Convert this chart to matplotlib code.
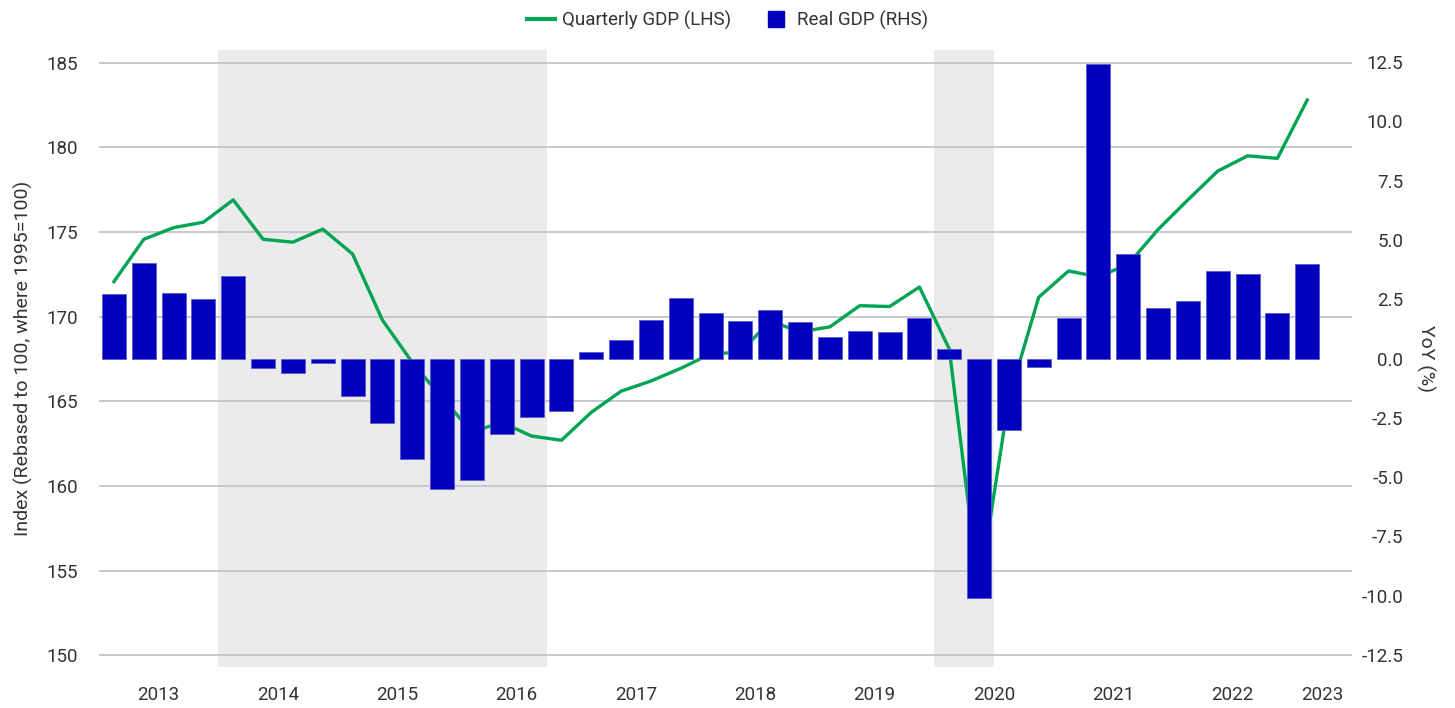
import matplotlib
matplotlib.use("Agg")
import matplotlib.pyplot as plt
from matplotlib.lines import Line2D
import numpy as np

plt.rcParams['font.family'] = ['Roboto', 'DejaVu Sans']

# Quarterly data 2013 Q1 .. 2023 Q1
quarters = [f"{y}Q{q}" for y in range(2013, 2023) for q in range(1, 5)] + ["2023Q1"]

gdp_index = [172.07, 174.57, 175.26, 175.58, 176.9, 174.57, 174.4, 175.17,
             173.7, 169.8, 167.3, 165.2, 163.2, 163.75, 162.95, 162.7,
             164.35, 165.6, 166.2, 166.95, 167.8, 167.9, 169.75, 169.1,
             169.4, 170.65, 170.6, 171.75, 168.1, 153.8, 165.2, 171.15,
             172.7, 172.35, 173.1, 175.15, 176.9, 178.6, 179.5, 179.35,
             182.8]

real_gdp_yoy = [2.71, 4.02, 2.75, 2.52, 3.47, -0.41, -0.63, -0.21,
                -1.60, -2.72, -4.25, -5.50, -5.12, -3.19, -2.45, -2.23,
                0.28, 0.78, 1.63, 2.56, 1.90, 1.60, 2.05, 1.53,
                0.89, 1.15, 1.10, 1.70, 0.42, -10.1, -3.0, -0.35,
                1.70, 12.41, 4.42, 2.12, 2.43, 3.68, 3.58, 1.91,
                4.0]

year_labels = ["2013", "2014", "2015", "2016", "2017", "2018",
               "2019", "2020", "2021", "2022", "2023"]
year_label_pos = [1.5, 5.5, 9.5, 13.5, 17.5, 21.5, 25.5, 29.5, 33.5, 37.5, 40.5]

# shaded periods (in quarter-index units)
shade_periods = [(3.5, 14.5), (27.5, 29.5)]

left_ticks = [150, 155, 160, 165, 170, 175, 180, 185]
right_ticks = [-12.5, -10.0, -7.5, -5.0, -2.5, 0.0, 2.5, 5.0, 7.5, 10.0, 12.5]

GREEN = '#00A554'
BLUE = '#0000BE'
TEXT = '#333333'
GRID = '#C4C4CC'
SHADE = '#EBEBEB'

fig = plt.figure(figsize=(14.55, 7.08), dpi=100)
ax = fig.add_axes([99/1455, 1-667/708, (1352-99)/1455, (667-50)/708])
ax2 = ax.twinx()

x = np.arange(len(quarters))

for a, b in shade_periods:
    ax.axvspan(a, b, color=SHADE, lw=0, zorder=0)

ax.plot(x, gdp_index, color=GREEN, lw=2.4, zorder=3, solid_joinstyle='round')
ax2.bar(x, real_gdp_yoy, width=0.81, color=BLUE, edgecolor='#5a5ad2', linewidth=0.6, zorder=3)

ax.set_xlim(-0.5, 41.5)
ax.set_ylim(149.31, 185.75)
ax2.set_ylim(-13.0, 13.0)

ax.set_yticks(left_ticks)
ax.set_yticklabels([str(t) for t in left_ticks])
ax2.set_yticks(right_ticks)
ax2.set_yticklabels([f"{t:.1f}" for t in right_ticks])
for lab in ax2.get_yticklabels():
    lab.set_horizontalalignment('right')

ax.set_xticks(year_label_pos)
ax.set_xticklabels(year_labels)

ax.grid(axis='y', color=GRID, lw=1.3, zorder=1)
ax.set_axisbelow(True)

for a in (ax, ax2):
    for s in a.spines.values():
        s.set_visible(False)

ax.tick_params(axis='y', length=0, pad=15, labelsize=13.5, labelcolor=TEXT)
ax.tick_params(axis='x', length=0, pad=14, labelsize=13.5, labelcolor=TEXT)
ax2.tick_params(axis='y', length=0, pad=37, labelsize=13.5, labelcolor=TEXT)

ax.set_ylabel("Index (Rebased to 100, where 1995=100)", fontsize=14, color=TEXT)
ax.yaxis.set_label_coords(-0.053, 0.5)
ax2.set_ylabel("YoY (%)", fontsize=14, color=TEXT, rotation=270, va='center')
ax2.yaxis.set_label_coords(1.059, 0.5)

handles = [Line2D([], [], color=GREEN, lw=3),
           Line2D([], [], color=BLUE, marker='s', markersize=11, linestyle='none')]
fig.legend(handles, ["Quarterly GDP (LHS)", "Real GDP (RHS)"], loc='center',
           bbox_to_anchor=(0.5, 1-20/708), ncol=2, frameon=False, fontsize=13.5,
           handlelength=1.5, handletextpad=0.4, columnspacing=1.6,
           labelcolor=TEXT)

fig.savefig("out.png", dpi=100)
